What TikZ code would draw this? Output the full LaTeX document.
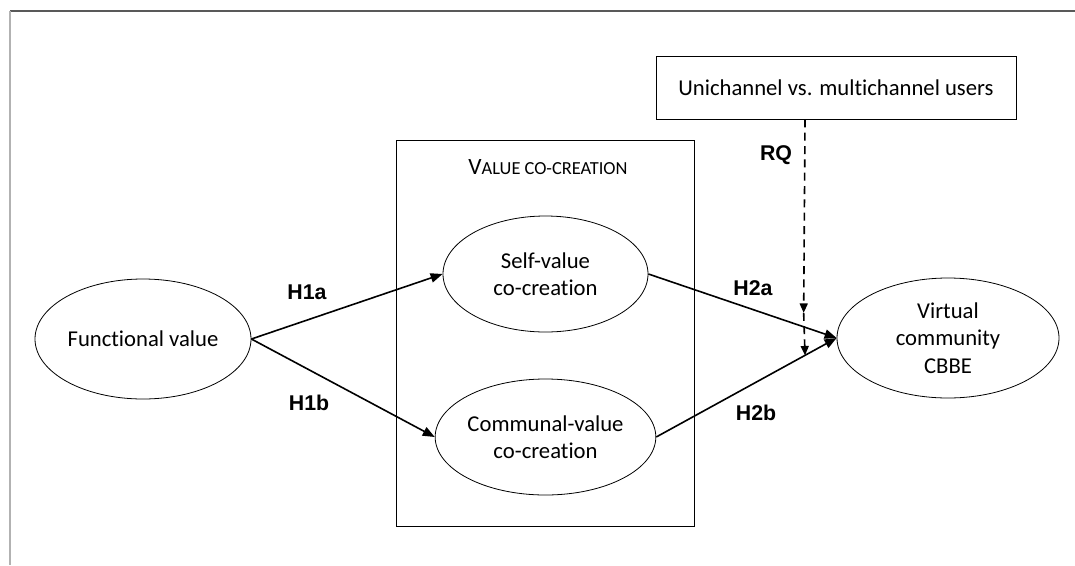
\documentclass[tikz,border=0pt]{standalone}
\usepackage{fontspec}
\setmainfont[Ligatures={NoCommon,NoContextual}]{Carlito}
\newfontfamily\hlabelfont{Liberation Sans}
\usetikzlibrary{arrows.meta,shapes.geometric,calc}
\tikzset{
  construct/.style={ellipse,draw,line width=0.6pt,inner sep=0pt,align=center,
    font=\fontsize{17}{20.5}\selectfont},
  groupbox/.style={draw,line width=0.6pt,inner sep=0pt},
  hypo/.style={font=\hlabelfont\bfseries\fontsize{16}{18}\selectfont},
  pathArrow/.style={-{Triangle[length=9pt,width=7pt]},line width=1.2pt},
  modArrow/.style={-{Triangle[length=7pt,width=6pt]},line width=1.2pt,
    dash pattern=on 6pt off 4pt}
}
\begin{document}
\begin{tikzpicture}[x=0.75pt,y=-0.75pt]
  \useasboundingbox (0,0) rectangle (1075,565);
  \draw[line width=1.5pt,gray!70!black] (10,11) -- (1075,11);
  \draw[line width=1.5pt,gray!60] (10,11) -- (10,565);
  \node[groupbox,minimum width=223.5pt,minimum height=289.5pt] (vcc) at (545,333) {};
  \node (vcctitle) at (548,167)
    {{\fontsize{17.5}{20}\selectfont V}{\fontsize{13.8}{16}\selectfont ALUE CO-CREATION}};
  \node[construct,minimum width=162pt,minimum height=90pt] (func) at (143,339) {Functional value};
  \node[construct,minimum width=153.75pt,minimum height=87pt] (self) at (545.5,274) {Self-value\\co-creation};
  \node[construct,minimum width=153.75pt,minimum height=87pt] (comm) at (545.5,437) {Communal-value\\co-creation};
  \node[construct,minimum width=166.5pt,minimum height=90pt] (cbbe) at (948,338) {Virtual\\community\\CBBE};
  \node[groupbox,minimum width=270pt,minimum height=47.25pt,font=\fontsize{17}{20}\selectfont]
    (uni) at (836,87.5) {Unichannel vs. multichannel users};
  \draw[pathArrow] (func.east) -- (self.west);
  \draw[pathArrow] (func.east) -- (comm.west);
  \draw[pathArrow] (self.east) -- (cbbe.west);
  \draw[pathArrow] (comm.east) -- (cbbe.west);
  \coordinate (rqend) at ($(comm.east)!0.825!(cbbe.west)$);
  \coordinate (rqmid) at ($($(self.east)!0.825!(cbbe.west)$)+(0,-14)$);
  \coordinate (rqtop) at (rqend |- uni.south);
  \draw[modArrow] (rqtop) -- (rqmid);
  \draw[modArrow] (rqmid) -- (rqend);
  \node[hypo] (h1a) at (307,292) {H1a};
  \node[hypo] (h1b) at (309,403) {H1b};
  \node[hypo] (h2a) at (753,288) {H2a};
  \node[hypo] (h2b) at (756,413) {H2b};
  \node[hypo] (rq) at (776,155) {RQ};
\end{tikzpicture}
\end{document}
